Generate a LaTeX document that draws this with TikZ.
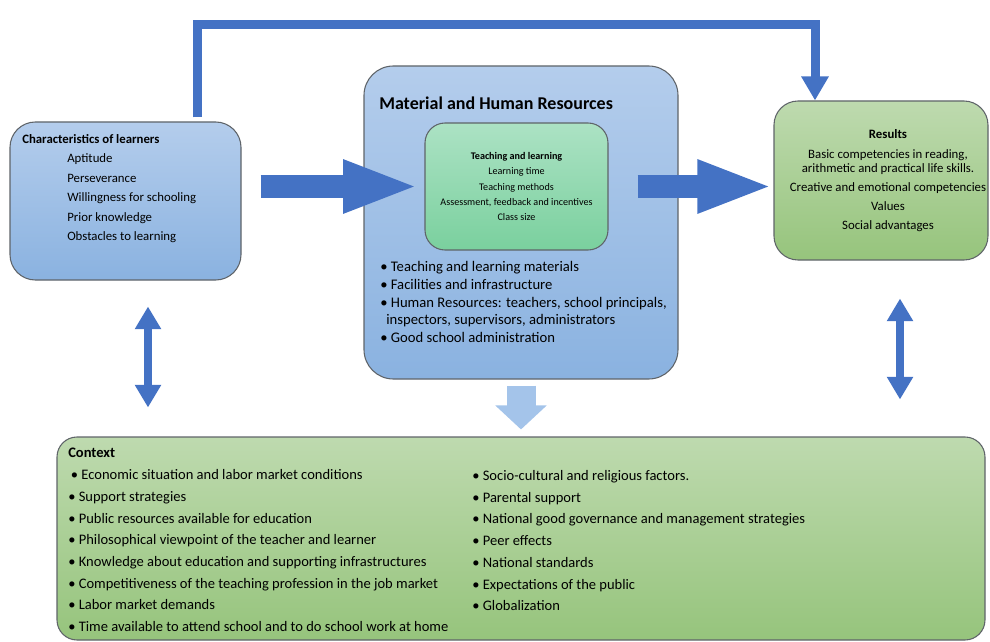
\documentclass[tikz,border=0pt]{standalone}
\usepackage{fontspec}
\setmainfont{Carlito}
\usetikzlibrary{arrows.meta}
\definecolor{arrowblue}{RGB}{68,114,196}
\definecolor{boxbluetop}{RGB}{180,205,236}
\definecolor{boxbluebot}{RGB}{138,178,224}
\definecolor{boxgreentop}{RGB}{190,218,175}
\definecolor{boxgreenbot}{RGB}{150,196,124}
\definecolor{innertop}{RGB}{172,226,196}
\definecolor{innerbot}{RGB}{122,208,158}
\definecolor{edgegray}{RGB}{95,100,105}
\definecolor{downblue}{RGB}{164,196,234}

\begin{document}
\begin{tikzpicture}[
    x=0.75pt,y=-0.75pt,
    bluebox/.style={rectangle,rounded corners=19pt,draw=edgegray,line width=0.8pt,
      top color=boxbluetop,bottom color=boxbluebot},
    greenbox/.style={rectangle,rounded corners=18pt,draw=edgegray,line width=0.8pt,
      top color=boxgreentop,bottom color=boxgreenbot},
    innerbox/.style={rectangle,rounded corners=15pt,draw=edgegray,line width=0.8pt,
      top color=innertop,bottom color=innerbot,align=center,font=\fontsize{7.6}{11.6}\selectfont},
    listtext/.style={anchor=north west,inner sep=0pt,align=left},
    blockarrow/.style={draw=arrowblue,line width=17.25pt,-{Triangle[length=57pt,width=36pt]}},
    flowarrow/.style={draw=arrowblue,line width=6.75pt,-{Triangle[length=18pt,width=19.5pt]}},
    dblarrow/.style={draw=arrowblue,line width=6pt,
      {Triangle[length=17pt,width=18.75pt]}-{Triangle[length=17pt,width=18.75pt]}},
    downarrow/.style={draw=downblue,line width=21.75pt,-{Triangle[length=18pt,width=37.5pt]}}
  ]
    \useasboundingbox (0,0) rectangle (990,642);
    % boxes
    \node[bluebox,minimum width=173.25pt,minimum height=118.5pt] (learners) at (125.5,201) {};
    \node[bluebox,rounded corners=22pt,minimum width=235.5pt,minimum height=234.75pt] (resources) at (521,222.5) {};
    \node[innerbox,minimum width=137.25pt,minimum height=95.25pt] (teaching) at (516.5,186.5)
      {\textbf{Teaching and learning}\\Learning time\\Teaching methods\\Assessment, feedback and incentives\\Class size};
    \node[greenbox,minimum width=160.5pt,minimum height=119.25pt] (results) at (881,180.5) {};
    \node[greenbox,rounded corners=15pt,minimum width=696pt,minimum height=152.25pt] (context) at (521,538.5) {};
    % texts
    \node[align=center,inner sep=0pt,font=\fontsize{9.6}{10.5}\selectfont] (resultlist) at (888,180.5)
      {\textbf{Results}\\[4.5pt]Basic competencies in reading,\\arithmetic and practical life skills.\\[3.75pt]
       Creative and emotional competencies\\[3.75pt]Values\\[3.75pt]Social advantages};
    \node[listtext,font=\fontsize{9.6}{14.6}\selectfont] (learnerlist) at (22,134)
      {\textbf{Characteristics of learners}\\
       \hspace*{33.75pt}Aptitude\\
       \hspace*{33.75pt}Perseverance\\
       \hspace*{33.75pt}Willingness for schooling\\
       \hspace*{33.75pt}Prior knowledge\\
       \hspace*{33.75pt}Obstacles to learning};
    \node[listtext,font=\fontsize{13.5}{15}\selectfont\bfseries] (resourcetitle) at (379,97) {Material and Human Resources};
    \node[listtext,font=\fontsize{11}{13.35}\selectfont] (resourcelist) at (380,261)
      {\textbullet{} Teaching and learning materials\\
       \textbullet{} Facilities and infrastructure\\
       \textbullet{} Human Resources: teachers, school principals,\\
       \hspace*{4.5pt}inspectors, supervisors, administrators\\
       \textbullet{} Good school administration};
    \node[listtext,font=\fontsize{10.9}{16.3}\selectfont] (contextleft) at (68,448)
      {\textbf{Context}\\
       \hspace*{2pt}\textbullet{} Economic situation and labor market conditions\\
       \textbullet{} Support strategies\\
       \textbullet{} Public resources available for education\\
       \textbullet{} Philosophical viewpoint of the teacher and learner\\
       \textbullet{} Knowledge about education and supporting infrastructures\\
       \textbullet{} Competitiveness of the teaching profession in the job market\\
       \textbullet{} Labor market demands\\
       \textbullet{} Time available to attend school and to do school work at home};
    \node[listtext,font=\fontsize{10.9}{16.3}\selectfont] (contextright) at (472,470)
      {\textbullet{} Socio-cultural and religious factors.\\
       \textbullet{} Parental support\\
       \textbullet{} National good governance and management strategies\\
       \textbullet{} Peer effects\\
       \textbullet{} National standards\\
       \textbullet{} Expectations of the public\\
       \textbullet{} Globalization};
    % arrows
    \coordinate (topleft) at (197,25);
    \coordinate (topright) at (815,25);
    \coordinate (leftlink) at (148,0);
    \coordinate (rightlink) at (900,0);
    \draw[flowarrow,shorten <=3pt] (learners.north -| topleft) -- (topleft) -- (topright) -- (results.north -| topright);
    \draw[blockarrow,shorten <=14.25pt,shorten >=4pt] (learners.east |- teaching.west) -- (teaching.west);
    \draw[blockarrow,shorten <=21.75pt] (teaching.east) -- (teaching.east -| results.west);
    \draw[dblarrow,shorten <=19.5pt,shorten >=21.75pt] (learners.south -| leftlink) -- (context.north -| leftlink);
    \draw[dblarrow,shorten <=28.5pt,shorten >=27.75pt] (results.south -| rightlink) -- (context.north -| rightlink);
    \draw[downarrow,shorten <=4.5pt,shorten >=5.25pt] (resources.south) -- (resources.south |- context.north);
  \end{tikzpicture}
\end{document}
